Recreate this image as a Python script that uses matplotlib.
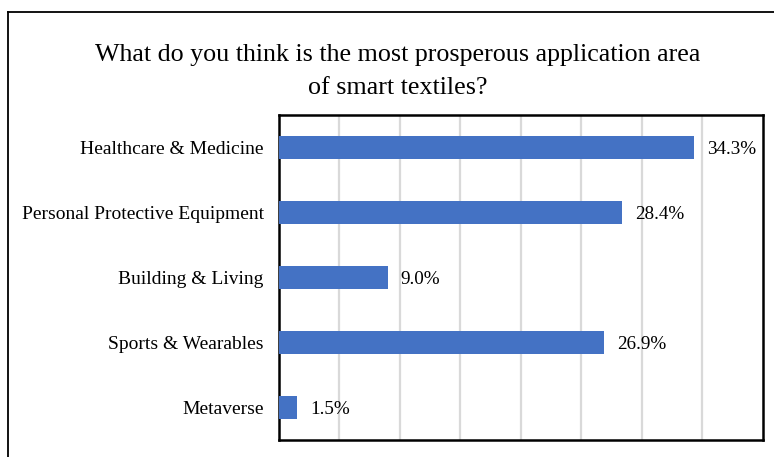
import matplotlib.pyplot as plt
from matplotlib.lines import Line2D

plt.rcParams['font.family'] = ['Liberation Serif', 'DejaVu Serif']

categories = ['Healthcare & Medicine', 'Personal Protective Equipment',
              'Building & Living', 'Sports & Wearables', 'Metaverse']
values = [34.3, 28.4, 9.0, 26.9, 1.5]
labels = ['34.3%', '28.4%', '9.0%', '26.9%', '1.5%']

fig = plt.figure(figsize=(7.74, 4.57), dpi=100)
ax = fig.add_axes([279 / 774, 1 - 440 / 457, (762.5 - 279) / 774, (440 - 115) / 457])

pos = list(range(len(categories)))
bars = ax.barh(pos, values, height=0.36, color='#4472C4', zorder=3)
ax.set_xlim(0, 40)
ax.set_ylim(len(categories) - 0.5, -0.5)
ax.set_xticks([5, 10, 15, 20, 25, 30, 35])
ax.tick_params(axis='x', length=0, labelbottom=False)
ax.tick_params(axis='y', length=0, pad=11, labelsize=14)
ax.set_yticks(pos)
ax.set_yticklabels(categories)
ax.grid(axis='x', color='#d9d9d9', linewidth=1.6, zorder=0)
for s in ax.spines.values():
    s.set_linewidth(1.8)
    s.set_color('black')

for b, lab in zip(bars, labels):
    ax.annotate(lab, (b.get_width(), b.get_y() + b.get_height() / 2),
                xytext=(13, 0), textcoords='offset pixels',
                va='center_baseline', ha='left', fontsize=13.8)

fig.text(398 / 774, 1 - 71.5 / 457,
         'What do you think is the most prosperous application area\nof smart textiles?',
         ha='center', va='center', fontsize=18.7, linespacing=1.6)

# outer frame (only top and left visible in the crop)
fig.add_artist(Line2D([8 / 774, 1], [1 - 12 / 457, 1 - 12 / 457], color='black', linewidth=1.3,
                      transform=fig.transFigure))
fig.add_artist(Line2D([8 / 774, 8 / 774], [0, 1 - 12 / 457], color='black', linewidth=1.3,
                      transform=fig.transFigure))

fig.savefig('out.png', dpi=100)
